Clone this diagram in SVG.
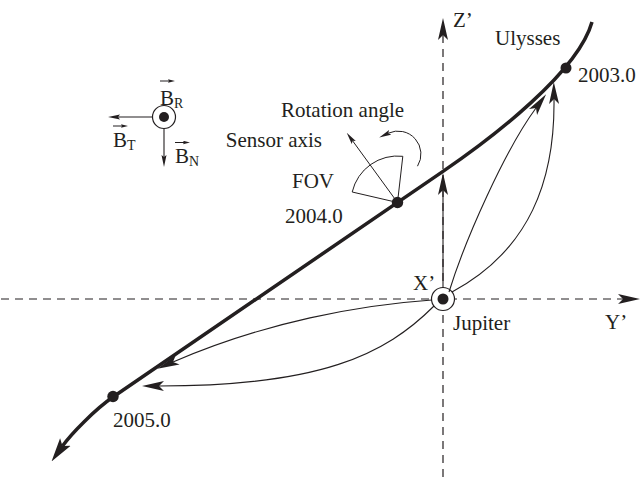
<svg xmlns="http://www.w3.org/2000/svg" width="641" height="477" viewBox="0 0 641 477">
<style>
text{font-family:"Liberation Serif","Times New Roman",serif;font-size:21px;fill:#231f20}
.sub{font-size:14px}
.ax{fill:none;stroke:#231f20;stroke-width:1.2;stroke-dasharray:8,6}
.ln{fill:none;stroke:#231f20;stroke-width:1.1}
.thin{fill:none;stroke:#231f20;stroke-width:1}
.traj{fill:none;stroke:#231f20;stroke-width:3.5}
.dot{fill:#231f20}
</style>
<defs>
<marker id="a" viewBox="0 -6 22 12" markerWidth="22" markerHeight="12" refX="5" refY="0" orient="auto" markerUnits="userSpaceOnUse"><path d="M0,-5 L22,0 L0,5 L5,0 Z" fill="#231f20"/></marker>
<marker id="t" viewBox="0 -7 24 14" markerWidth="24" markerHeight="14" refX="5" refY="0" orient="auto" markerUnits="userSpaceOnUse"><path d="M0,-6.5 L24,0 L0,6.5 L5,0 Z" fill="#231f20"/></marker>
<marker id="s" viewBox="0 -3 12 6" markerWidth="12" markerHeight="6" refX="2" refY="0" orient="auto" markerUnits="userSpaceOnUse"><path d="M0,-2.5 L12,0 L0,2.5 L2,0 Z" fill="#231f20"/></marker>
<marker id="v" viewBox="0 -2 7 4" markerWidth="7" markerHeight="4" refX="1" refY="0" orient="auto" markerUnits="userSpaceOnUse"><path d="M0,-1.8 L7,0 L0,1.8 L1,0 Z" fill="#231f20"/></marker>
</defs>

<g id="axes">
<path class="ax" d="M1,299 H623" marker-end="url(#a)"/>
<path class="ax" d="M443,477 V35" marker-end="url(#a)"/>
<text x="453" y="27">Z’</text>
<text x="605" y="329">Y’</text>
</g>

<g id="trajectory">
<path class="traj" d="M592,22 C578,72 493,137.3 443,171.4 L113,397 C95,409.4 71,434 62.5,446" marker-end="url(#t)"/>
<text x="495" y="45">Ulysses</text>
</g>

<g id="p2003">
<circle class="dot" cx="566" cy="68" r="5.5"/>
<text x="578" y="82">2003.0</text>
</g>
<g id="p2004">
<circle class="dot" cx="397.5" cy="202.5" r="5.7"/>
<text x="285" y="223">2004.0</text>
</g>
<g id="p2005">
<circle class="dot" cx="113" cy="396.5" r="5.7"/>
<text x="113" y="427">2005.0</text>
</g>

<g id="jupiter">
<circle cx="443" cy="299" r="11.5" fill="#fff" stroke="#231f20" stroke-width="1.2"/>
<circle class="dot" cx="443" cy="299" r="5.5"/>
<text x="413" y="290">X’</text>
<text x="453" y="330">Jupiter</text>
</g>

<g id="sensor">
<path class="thin" d="M397.5,202.5 L352.2,192 A46.5,46.5 0 0 1 402.8,156.3 Z"/>
<path class="thin" d="M397.5,202.5 L352.6,140.8" marker-end="url(#s)"/>
<path class="thin" d="M417.5,166.2 A23,23 0 0 0 388.3,133.2" marker-end="url(#s)"/>
<text x="281" y="117">Rotation angle</text>
<text x="322" y="147" text-anchor="end">Sensor axis</text>
<text x="292" y="188">FOV</text>
</g>

<g id="bframe">
<circle cx="164" cy="117" r="11.5" fill="#fff" stroke="#231f20" stroke-width="1.2"/>
<circle class="dot" cx="164" cy="117" r="5"/>
<path class="ln" d="M152.5,117 H118" marker-end="url(#s)"/>
<path class="ln" d="M164,128.5 V157" marker-end="url(#s)"/>
<path class="thin" d="M160,81 H169" marker-end="url(#v)"/>
<text x="160" y="105">B<tspan class="sub" dy="3">R</tspan></text>
<path class="thin" d="M113,126 H122" marker-end="url(#v)"/>
<text x="113" y="147">B<tspan class="sub" dy="3">T</tspan></text>
<path class="thin" d="M175,142.5 H184" marker-end="url(#v)"/>
<text x="175" y="163">B<tspan class="sub" dy="3">N</tspan></text>
</g>

<g id="connectors">
<path class="ln" d="M443,288 V190" marker-end="url(#a)"/>
<path class="ln" d="M449,292 C465,240 505,150 536,108" marker-end="url(#a)"/>
<path class="ln" d="M452,292 C530,250 555,180 554,99" marker-end="url(#a)"/>
<path class="ln" d="M432,300 C360,305 265,322 173,362" marker-end="url(#a)"/>
<path class="ln" d="M434,306 C385,355 320,386 159,386" marker-end="url(#a)"/>
</g>
</svg>
